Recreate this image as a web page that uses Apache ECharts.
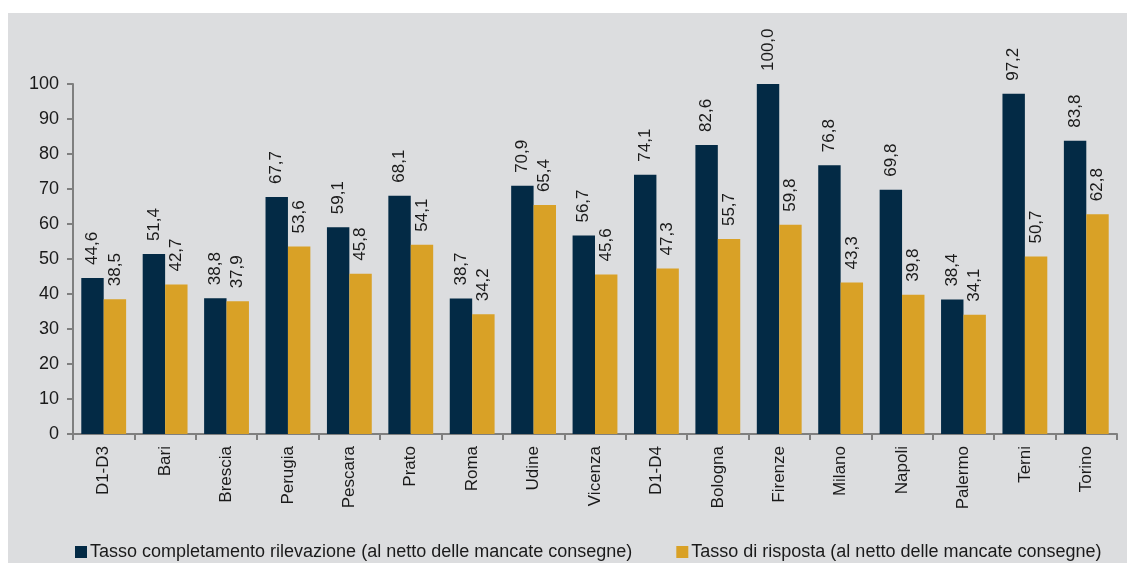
<!DOCTYPE html>
<html><head><meta charset="utf-8">
<script src="https://cdn.jsdelivr.net/npm/echarts@6/dist/echarts.min.js"></script>
<style>html,body{margin:0;padding:0;background:#fff}#c{width:1127px;height:563px}</style>
</head><body><div id="c"></div>
<script>
const categories = ["D1-D3","Bari","Brescia","Perugia","Pescara","Prato","Roma","Udine","Vicenza","D1-D4","Bologna","Firenze","Milano","Napoli","Palermo","Terni","Torino"];
const completamento = [44.6,51.4,38.8,67.7,59.1,68.1,38.7,70.9,56.7,74.1,82.6,100.0,76.8,69.8,38.4,97.2,83.8];
const risposta = [38.5,42.7,37.9,53.6,45.8,54.1,34.2,65.4,45.6,47.3,55.7,59.8,43.3,39.8,34.1,50.7,62.8];
const seriesNames = ["Tasso completamento rilevazione (al netto delle mancate consegne)","Tasso di risposta (al netto delle mancate consegne)"];

const chart = echarts.init(document.getElementById('c'));
const fmt = p => p.value.toFixed(1).replace('.', ',');
const lbl = {show:true, position:'top', rotate:90, align:'left', verticalAlign:'middle', distance:13, formatter:fmt, color:'#1a1a1a', fontSize:17, fontFamily:'Liberation Sans'};
chart.setOption({
  backgroundColor:'#ffffff',
  graphic:[{type:'rect', z:-10, shape:{x:8,y:13,width:1119,height:550}, style:{fill:'#dcdddf'}}],
  textStyle:{fontFamily:'Liberation Sans'},
  grid:{left:73, right:10, top:84, bottom:129},
  legend:{left:70, top:538, itemGap:44, itemWidth:12, itemHeight:12, icon:'rect',
    textStyle:{fontSize:18, color:'#1a1a1a', fontFamily:'Liberation Sans', padding:[0,0,0,-2]}},
  xAxis:{type:'category', data:categories,
    axisLine:{lineStyle:{color:'#7f7f7f', width:2}},
    axisTick:{show:true, length:6, lineStyle:{color:'#7f7f7f', width:2}},
    axisLabel:{rotate:90, fontSize:17, color:'#1a1a1a', margin:12}},
  yAxis:{type:'value', min:0, max:100, interval:10,
    axisLine:{show:true, lineStyle:{color:'#7f7f7f', width:2}},
    axisTick:{show:true, length:6, lineStyle:{color:'#7f7f7f', width:2}},
    splitLine:{show:false},
    axisLabel:{fontSize:18, color:'#1a1a1a', margin:14}},
  series:[
    {name:seriesNames[0], type:'bar', data:completamento, barGap:'0%', barCategoryGap:'27%', itemStyle:{color:'#032a45'}, label:lbl},
    {name:seriesNames[1], type:'bar', data:risposta, itemStyle:{color:'#d9a126'}, label:lbl}
  ]
});
</script></body></html>
